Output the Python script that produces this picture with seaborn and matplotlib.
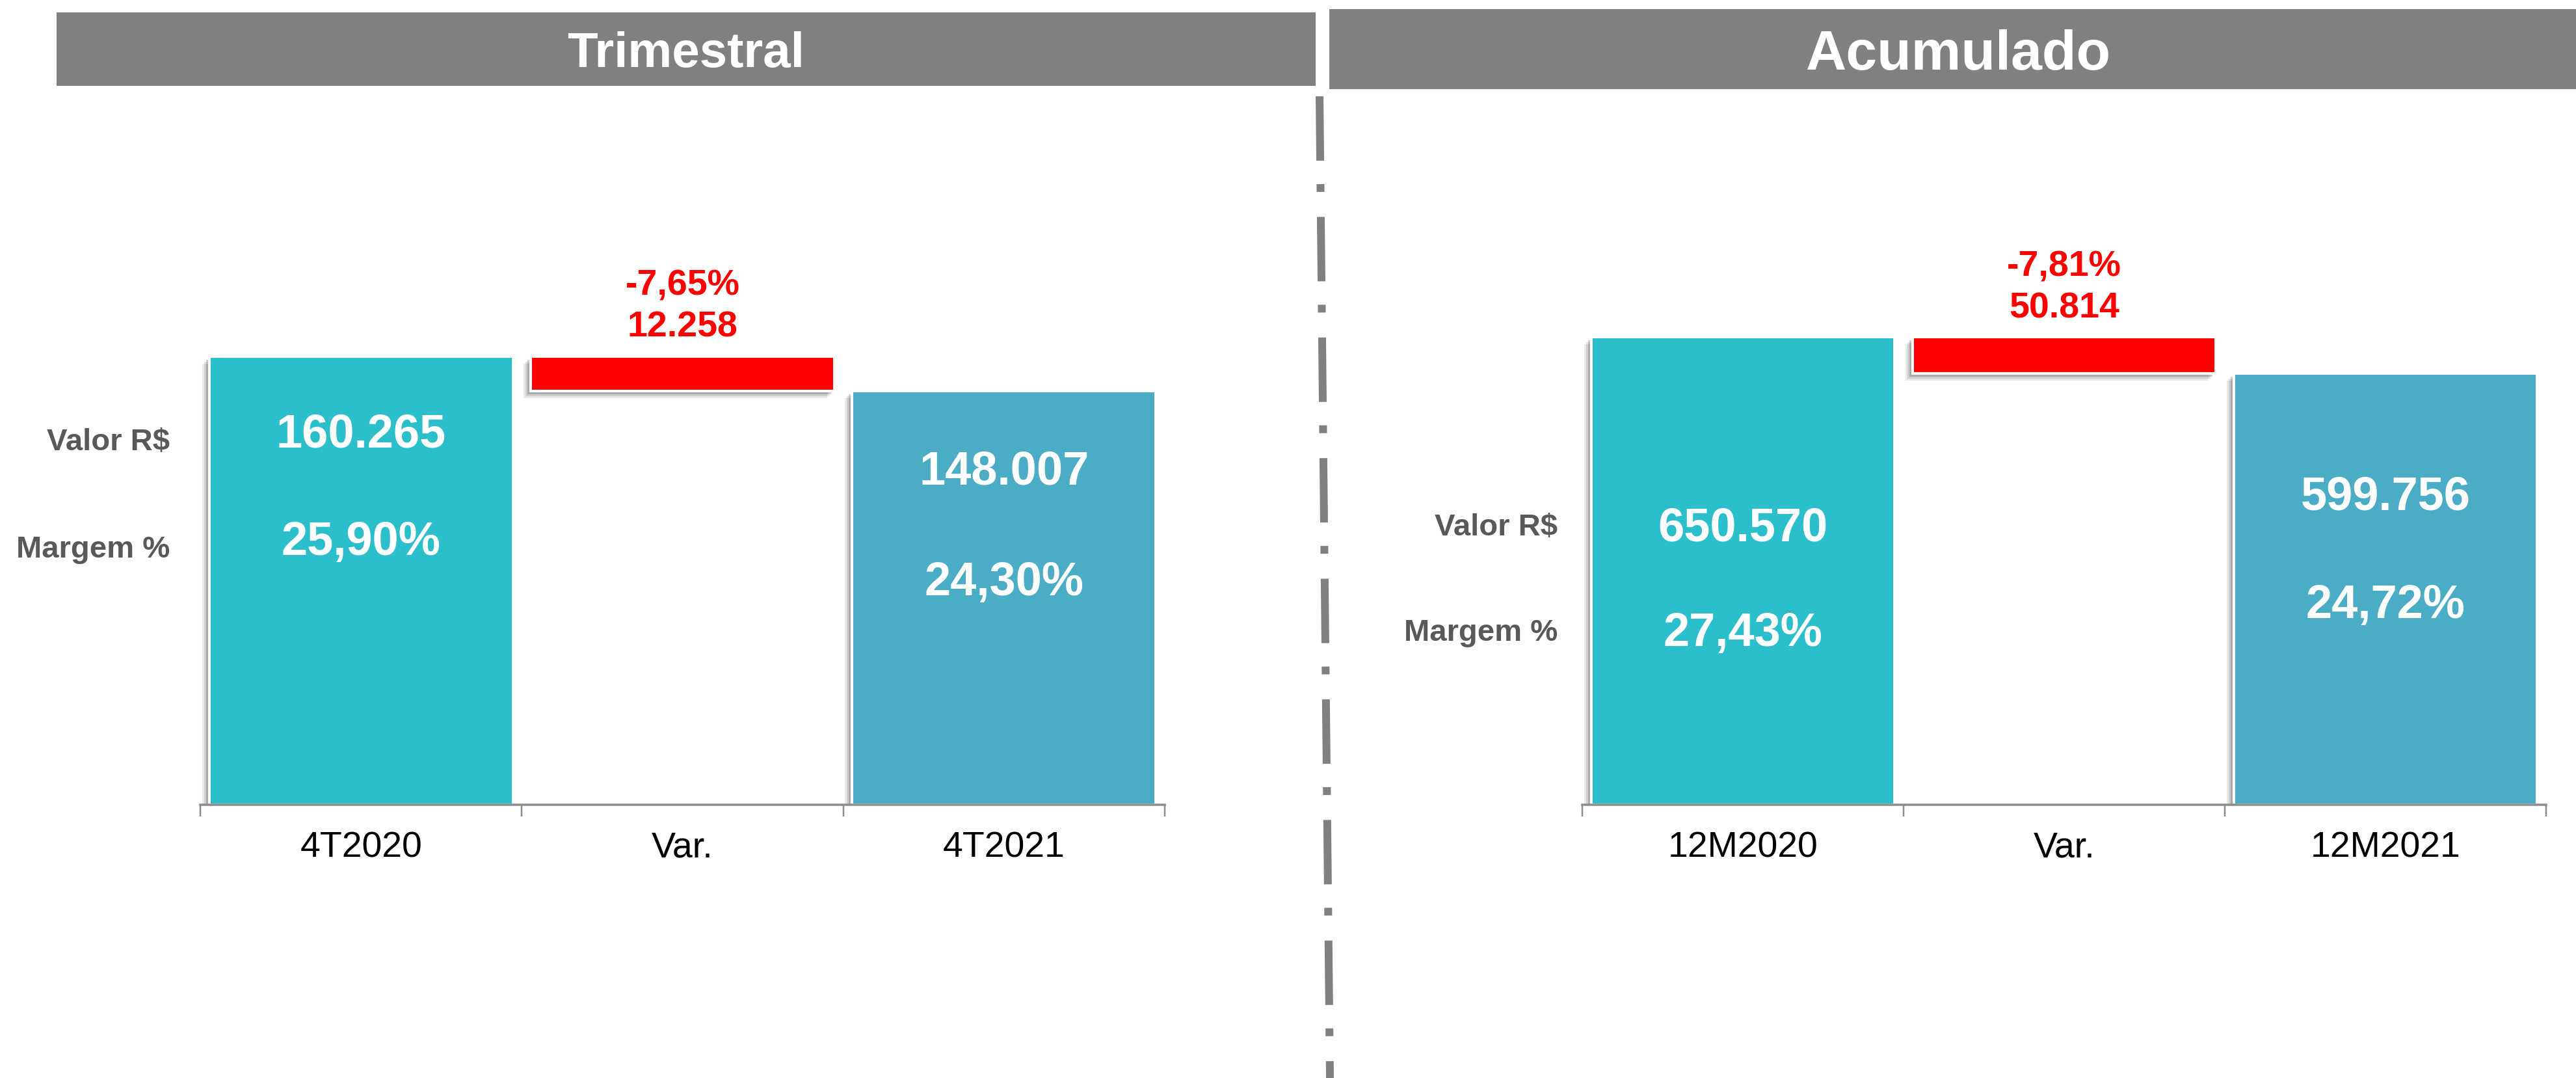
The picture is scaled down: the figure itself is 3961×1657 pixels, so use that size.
import matplotlib
matplotlib.use("Agg")
import matplotlib.pyplot as plt
import matplotlib.patheffects as pe
from matplotlib.lines import Line2D
from matplotlib.patches import Rectangle
from matplotlib.transforms import blended_transform_factory
import pandas as pd
import seaborn as sns

# Quarterly panel
tri_categories = ["4T2020", "Var.", "4T2021"]
tri_values = [160265, 148007]
tri_margins = [25.90, 24.30]

# Year-to-date panel
acu_categories = ["12M2020", "Var.", "12M2021"]
acu_values = [650570, 599756]
acu_margins = [27.43, 24.72]

panel_titles = ["Trimestral", "Acumulado"]
row_labels = ["Valor R$", "Margem %"]

COLOR_OLD = "#2BBFCC"
COLOR_NEW = "#4BACC6"
COLOR_VAR = "#FF0000"
HEADER_GREY = "#808080"
AXIS_GREY = "#8C8C8C"
LABEL_GREY = "#595959"

sns.set_theme(style="white")
plt.rcParams["font.family"] = ["Liberation Sans", "DejaVu Sans"]

W, H, DPI = 3962, 1657, 100
PT = 72 / DPI  # points per pixel
fig = plt.figure(figsize=(W / DPI, H / DPI), dpi=DPI)


def fx(px):
    return px / W


def fy(py):
    return 1 - py / H


def fmt_int(v):
    return f"{v:,.0f}".replace(",", ".")


def fmt_pct(v):
    return f"{v:.2f}".replace(".", ",") + "%"


def soft_shadow():
    effects = []
    for k, a in [(11, 0.10), (8, 0.14), (5, 0.22)]:
        effects.append(pe.SimplePatchShadow(offset=(-k * PT, -k * PT),
                                            shadow_rgbFace="#303030", alpha=a))
    effects.append(pe.Normal())
    return effects


# page layout of the two panels (pixel units, measured from the top-left)
layouts = [
    dict(header=(87, 19, 2023, 132), title_x=1055, title_size=55,
         ax_x=(308, 1791), ymax=253300,
         row_x=261, row_base=(692, 857),
         val_base=[(688, 853), (745, 915)]),
    dict(header=(2044, 14, 3962, 137), title_x=3011, title_size=62,
         ax_x=(2433, 3915), ymax=985400,
         row_x=2395, row_base=(823, 985),
         val_base=[(831, 993), (783, 950)]),
]
AX_TOP, AX_BASE = 148, 1237
BAR_W = 0.945

panels = [
    (tri_categories, tri_values, tri_margins),
    (acu_categories, acu_values, acu_margins),
]

for (cats, values, margins), lay, title in zip(panels, layouts, panel_titles):
    # header band
    x0, y0, x1, y1 = lay["header"]
    fig.add_artist(Rectangle((fx(x0), fy(y1)), fx(x1) - fx(x0), fy(y0) - fy(y1),
                             transform=fig.transFigure, facecolor=HEADER_GREY,
                             edgecolor="none"))
    fig.text(fx(lay["title_x"]), fy((y0 + y1) / 2), title, color="white",
             fontsize=lay["title_size"], fontweight="bold", ha="center",
             va="center_baseline")

    ax = fig.add_axes([fx(lay["ax_x"][0]), fy(AX_BASE),
                       fx(lay["ax_x"][1]) - fx(lay["ax_x"][0]),
                       fy(AX_TOP) - fy(AX_BASE)])

    df = pd.DataFrame({"periodo": [cats[0], cats[2]], "valor": values})
    sns.barplot(data=df, x="periodo", y="valor", order=cats, hue="periodo",
                hue_order=[cats[0], cats[2]], palette=[COLOR_OLD, COLOR_NEW],
                width=BAR_W, saturation=1, legend=False, errorbar=None,
                edgecolor="white", linewidth=4 * PT, ax=ax)

    # floating variation bar between the two totals
    diff = values[0] - values[1]
    ax.bar(1, diff, bottom=values[1], width=BAR_W, color=COLOR_VAR,
           edgecolor="white", linewidth=4 * PT)

    for p in ax.patches:
        p.set_path_effects(soft_shadow())

    ax.set_xlim(-0.5, 2.5)
    ax.set_ylim(0, lay["ymax"])
    ax.set_xlabel("")
    ax.set_ylabel("")
    ax.set_yticks([])
    ax.set_xticks([-0.5, 0.5, 1.5, 2.5])
    ax.set_xticklabels([])
    ax.set_xticks([0, 1, 2], minor=True)
    ax.set_xticklabels(cats, minor=True)
    ax.tick_params(axis="x", which="major", direction="out", length=18 * PT,
                   width=2.5 * PT, color=AXIS_GREY, bottom=True)
    ax.tick_params(axis="x", which="minor", length=0, pad=40 * PT,
                   labelsize=40, labelcolor="black", bottom=True)
    for side in ["top", "left", "right"]:
        ax.spines[side].set_visible(False)
    ax.spines["bottom"].set_color(AXIS_GREY)
    ax.spines["bottom"].set_linewidth(3.5 * PT)
    ax.spines["bottom"].set_zorder(5)

    # variation labels above the red bar
    pct = (values[1] - values[0]) / values[0] * 100
    ax.annotate(fmt_int(diff), xy=(1, values[0]), xytext=(0, 30 * PT),
                textcoords="offset points", ha="center", va="baseline",
                color=COLOR_VAR, fontsize=40, fontweight="bold")
    ax.annotate(fmt_pct(pct), xy=(1, values[0]), xytext=(0, 94 * PT),
                textcoords="offset points", ha="center", va="baseline",
                color=COLOR_VAR, fontsize=40, fontweight="bold")

    # value and margin labels inside the total bars
    tr = blended_transform_factory(ax.transData, fig.transFigure)
    for xpos, v, m, (b_val, b_pct) in zip([0, 2], values, margins, lay["val_base"]):
        ax.text(xpos, fy(b_val), fmt_int(v), transform=tr, ha="center",
                va="baseline", color="white", fontsize=52, fontweight="bold")
        ax.text(xpos, fy(b_pct), fmt_pct(m), transform=tr, ha="center",
                va="baseline", color="white", fontsize=52, fontweight="bold")

    # row captions to the left of the panel
    for txt, base in zip(row_labels, lay["row_base"]):
        fig.text(fx(lay["row_x"]), fy(base), txt, ha="right", va="baseline",
                 color=LABEL_GREY, fontsize=34, fontweight="bold")

# dash-dot divider between the panels
fig.add_artist(Line2D([fx(2029), fx(2045)], [fy(148), fy(1657)],
                      transform=fig.transFigure, color=HEADER_GREY,
                      linewidth=12 * PT, dashes=(8.25, 3.0, 1.0, 3.2),
                      dash_capstyle="butt"))

fig.savefig("out.png", dpi=DPI, facecolor="white")
